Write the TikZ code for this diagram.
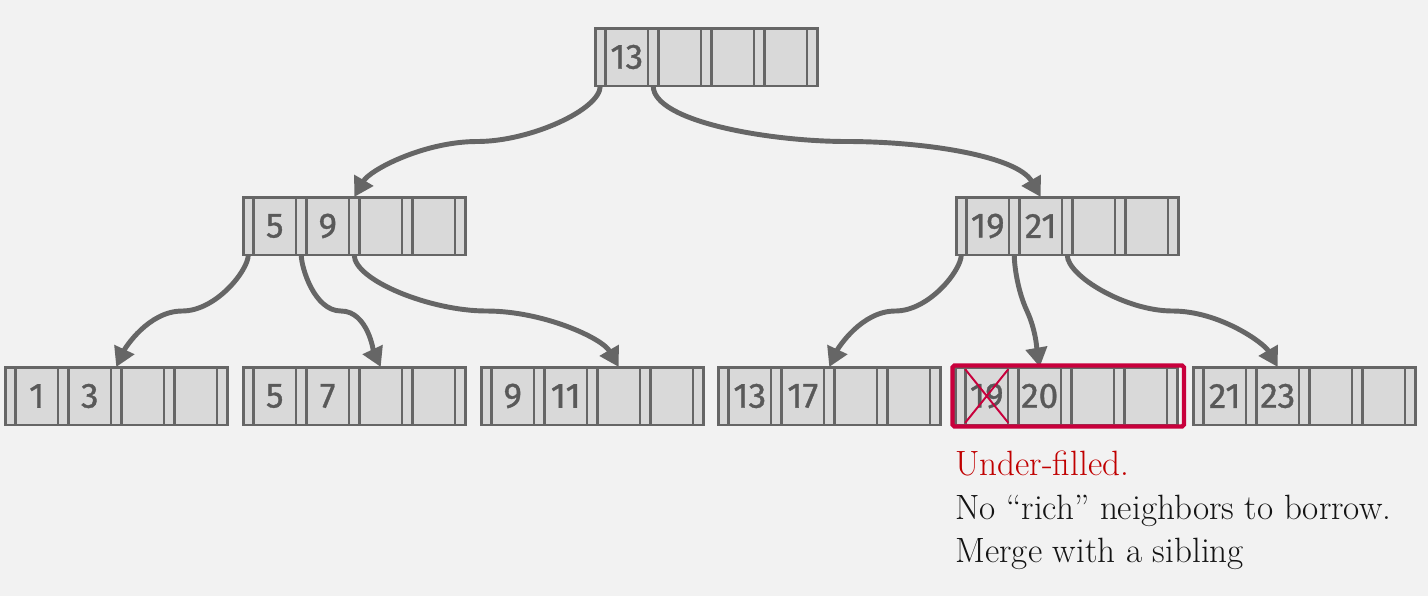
\documentclass[tikz,border=0pt]{standalone}
\usepackage{fontspec}
\newfontfamily\keyfont[FakeBold=1]{Fira Sans}
\usetikzlibrary{arrows.meta, calc}

\definecolor{bgcol}{HTML}{F2F2F2}
\definecolor{boxfill}{HTML}{D9D9D9}
\definecolor{boxline}{HTML}{666666}
\definecolor{keycol}{HTML}{595959}
\definecolor{alert}{HTML}{C8003C}
\definecolor{notered}{HTML}{C00000}
\definecolor{notetext}{HTML}{141414}

\tikzset{
  keybox/.style={draw=boxline, fill=boxfill, line width=1.7pt, minimum width=4.45cm, minimum height=1.16cm, inner sep=0pt},
  keyline/.style={draw=boxline, line width=1.6pt},
  keytext/.style={text=keycol, font=\keyfont\fontsize{20}{22}\selectfont, minimum width=0.85cm, minimum height=1.06cm, inner sep=0pt},
  link/.style={draw=boxline, line width=2.8pt, -{Triangle[width=12pt,length=11pt]}},
  hilite/.style={draw=alert, line width=2.4pt, rounded corners=1pt},
  note/.style={anchor=base west, inner sep=0pt, font=\fontsize{20}{22}\selectfont}
}

% one B+tree node: name, left, top, first key, second key
\newcommand{\keynode}[5]{%
  \begin{scope}[shift={(#2,#3)}]
    \node[keybox] (#1) at (111.25,29) {};
    \foreach \i in {0,...,3}
      \draw[keyline] ({10.5+53*\i},0) -- ({10.5+53*\i},58)
                     ({53+53*\i},0) -- ({53+53*\i},58);
    \foreach \j in {0,...,8}
      \coordinate (#1-t\j) at ({5.25+26.5*\j},0);
    \foreach \i in {0,...,4}
      \coordinate (#1-p\i) at ({5.25+53*\i},58);
    \node[keytext] (#1-k1) at (31.75,29) {#4};
    \node[keytext] (#1-k2) at (84.75,29) {#5};
  \end{scope}}

\begin{document}
\begin{tikzpicture}[x=0.02cm, y=-0.02cm]
    \fill[bgcol] (0,0) rectangle (1428,596);
    \useasboundingbox (0,0) rectangle (1428,596);

    % levels
    \keynode{root}{595}{28}{13}{}
    \keynode{li}{243}{197}{5}{9}
    \keynode{ri}{956}{197}{19}{21}
    \keynode{l1}{5}{367}{1}{3}
    \keynode{l2}{243}{367}{5}{7}
    \keynode{l3}{481}{367}{9}{11}
    \keynode{l4}{718}{367}{13}{17}
    \keynode{l5}{955}{367}{19}{20}
    \keynode{l6}{1193}{367}{21}{23}

    % pointers
    \foreach \s/\t/\a/\b/\c in {root-p0/li-t4/0/180/60, root-p1/ri-t3/180/0/120,
        li-p0/l1-t4/0/180/65, li-p1/l2-t5/180/0/115, li-p2/l3-t5/180/0/120,
        ri-p0/l4-t4/0/180/65, ri-p1/l5-t3/115/-65/100, ri-p2/l6-t3/180/0/120}
      \draw[link] (\s) to[out=-90, in=\a, out looseness=0.45, in looseness=1]
          ($(\s)!0.5!(\t)$) to[out=\b, in=\c, out looseness=1, in looseness=0.6] (\t);

    % under-filled leaf
    \draw[hilite] ([shift={(-1,0)}]l5.north west) rectangle ([shift={(5,0)}]l5.south east);
    \draw[alert, line width=1.1pt] (l5-k1.north west) -- (l5-k1.south east)
                                   (l5-k1.south west) -- (l5-k1.north east);

    \node[note, text=notered] (n1) at (955,475) {Under-filled.};
    \node[note, text=notetext] (n2) at (955,519) {No ``rich'' neighbors to borrow.};
    \node[note, text=notetext] (n3) at (955,562) {Merge with a sibling};
\end{tikzpicture}
\end{document}
